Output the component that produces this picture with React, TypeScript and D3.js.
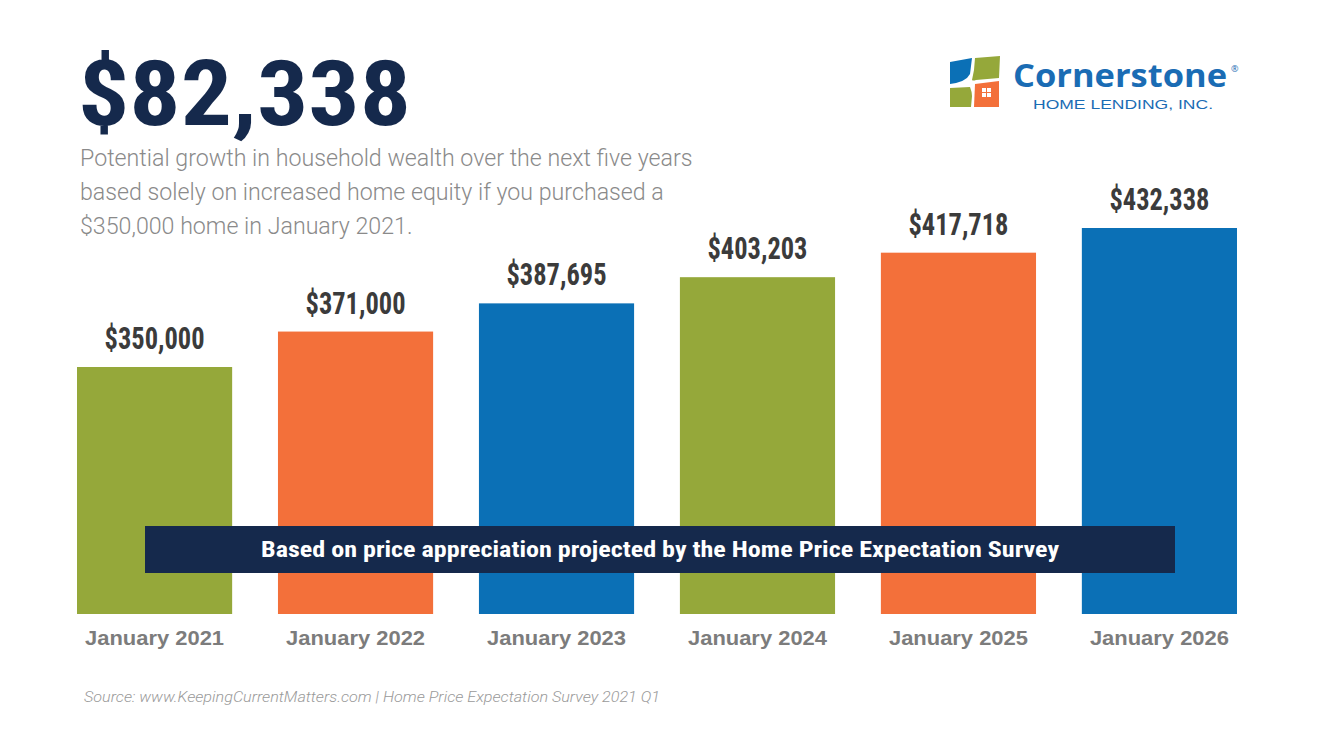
import * as d3 from "d3";

const W = 1320;
const H = 756;

// Data
const categories = ["January 2021", "January 2022", "January 2023", "January 2024", "January 2025", "January 2026"];
const values = [350000, 371000, 387695, 403203, 417718, 432338];
const barColors = ["#95a83a", "#f3703a", "#0b70b6", "#95a83a", "#f3703a", "#0b70b6"];

const headline = "$82,338";
const subtitleLines = [
  "Potential growth in household wealth over the next five years",
  "based solely on increased home equity if you purchased a",
  "$350,000 home in January 2021.",
];
const bannerText = "Based on price appreciation projected by the Home Price Expectation Survey";
const sourceText = "Source: www.KeepingCurrentMatters.com | Home Price Expectation Survey 2021 Q1";

const NAVY = "#15294c";
const fmt = d3.format("$,");

function Logo() {
  return (
    <g>
      <path d="M950,62 L972,58 L970,74 Q966,82 950,84 Z" fill="#0b70b6" />
      <path d="M975,58 L1000,56 L999,78 L976,80 Q973,81 972,80 L974,70 Z" fill="#95a83a" />
      <path d="M950,88 L970,87 Q972,92 972,96 L971,107 L950,107 Z" fill="#95a83a" />
      <path d="M975,84 L999,81 L999,107 L974,107 Z" fill="#f3703a" />
      {[0, 1].map((i) =>
        [0, 1].map((j) => (
          <rect key={`${i}-${j}`} x={982 + i * 5} y={88 + j * 5} width={4} height={4} fill="#fff" />
        ))
      )}
      <text x={1013} y={87} fill="#1a6cb4" fontFamily="'Open Sans', sans-serif" fontWeight={700}
        fontSize={33} textLength={214} lengthAdjust="spacingAndGlyphs">Cornerstone</text>
      <text x={1231} y={72} fill="#1a6cb4" fontFamily="'Open Sans', sans-serif" fontSize={9}>®</text>
      <text x={1033} y={109} fill="#1a6cb4" fontFamily="'Liberation Sans', Arial, sans-serif" fontSize={13.5}
        textLength={180} lengthAdjust="spacingAndGlyphs">HOME LENDING, INC.</text>
    </g>
  );
}

export default function App() {
  const x = d3.scaleBand<string>().domain(categories).range([77, 1237]).paddingInner(0.228).paddingOuter(0);
  const y = d3.scaleLinear().domain([203700, 432338]).range([614, 228]);
  const condensed = "'Liberation Sans Narrow', 'Roboto Condensed', Roboto, sans-serif";

  return (
    <svg width={W} height={H} style={{ position: "absolute", left: 0, top: 0, background: "#fff" }}>
      <rect width={W} height={H} fill="#fff" />

      {/* headline */}
      <text x={78} y={125} fill={NAVY} fontFamily={condensed} fontWeight={700} fontSize={90}
        textLength={333} lengthAdjust="spacingAndGlyphs">{headline}</text>
      {subtitleLines.map((t, i) => (
        <text key={i} x={80} y={166 + i * 34} fill="#8a8a8a" fontFamily="Roboto, sans-serif"
          fontWeight={300} fontSize={23.2}>{t}</text>
      ))}

      <Logo />

      {/* bars */}
      {categories.map((c, i) => {
        const bx = x(c)!;
        const bw = x.bandwidth();
        return (
          <g key={c}>
            <rect x={bx} y={y(values[i])} width={bw} height={y.range()[0] - y(values[i])} fill={barColors[i]} />
            <text x={bx + bw / 2} y={y(values[i]) - 18} textAnchor="middle" fill="#3b3b3b"
              fontFamily={condensed} fontWeight={700} fontSize={31} textLength={100}
              lengthAdjust="spacingAndGlyphs">{fmt(values[i])}</text>
            <text x={bx + bw / 2} y={645} textAnchor="middle" fill="#7c7c7c"
              fontFamily="'Liberation Sans', Arial, sans-serif" fontWeight={700} fontSize={20}
              textLength={139} lengthAdjust="spacingAndGlyphs">{c}</text>
          </g>
        );
      })}

      {/* banner */}
      <rect x={145} y={526} width={1030} height={47} fill={NAVY} />
      <text x={660} y={557} textAnchor="middle" fill="#fff" fontFamily={condensed} fontWeight={700}
        fontSize={22} textLength={798} lengthAdjust="spacingAndGlyphs">{bannerText}</text>

      {/* source */}
      <text x={84} y={702} fill="#9a9a9a" fontFamily="Roboto, sans-serif" fontWeight={300}
        fontStyle="italic" fontSize={14.5} textLength={576} lengthAdjust="spacingAndGlyphs">{sourceText}</text>
    </svg>
  );
}
